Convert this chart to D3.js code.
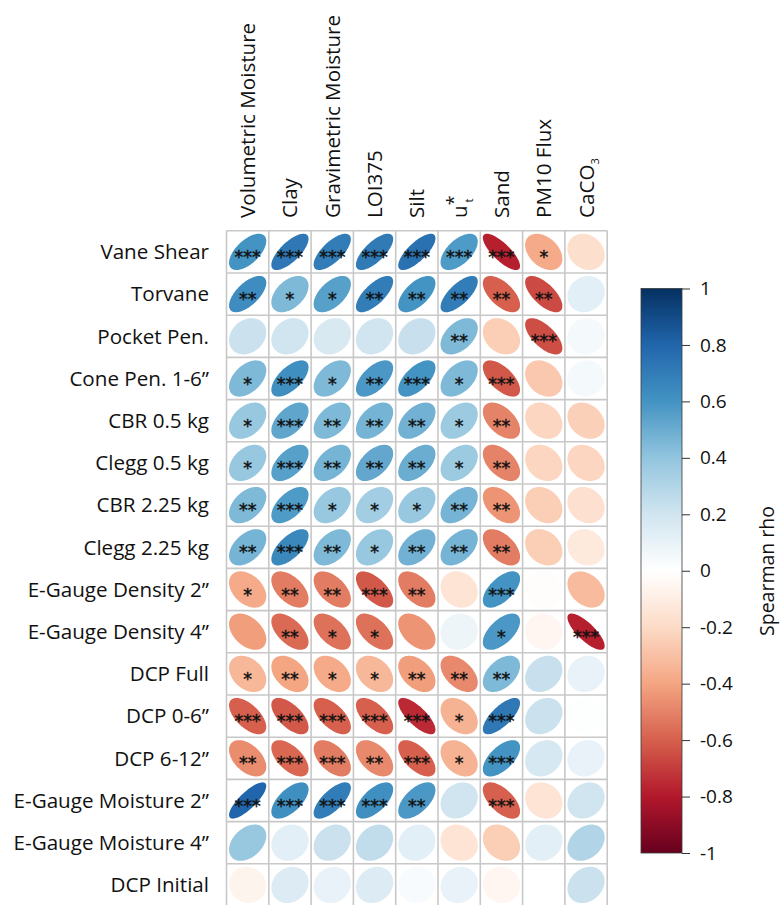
<!DOCTYPE html>
<html>
<head>
<meta charset="utf-8">
<script src="https://cdn.jsdelivr.net/npm/d3@7"></script>
<style>
  html, body { margin: 0; padding: 0; background: #ffffff; }
  svg { display: block; }
  text { font-family: "Open Sans", "Noto Sans", sans-serif; fill: #111111; }
</style>
</head>
<body>
<svg id="chart" width="781" height="905"></svg>
<script>
// Soil / strength variables (rows) versus soil properties (columns)
const rowLabels = [
  "Vane Shear", "Torvane", "Pocket Pen.", "Cone Pen. 1-6\u201D",
  "CBR 0.5 kg", "Clegg 0.5 kg", "CBR 2.25 kg", "Clegg 2.25 kg",
  "E-Gauge Density 2\u201D", "E-Gauge Density 4\u201D", "DCP Full",
  "DCP 0-6\u201D", "DCP 6-12\u201D", "E-Gauge Moisture 2\u201D",
  "E-Gauge Moisture 4\u201D", "DCP Initial"
];
const colKeys = ["VolMoist", "Clay", "GravMoist", "LOI375", "Silt", "ustar", "Sand", "PM10", "CaCO3"];

// Spearman rho, one array per row (columns in colKeys order)
const rhoVaneShear   = [ 0.60,  0.72,  0.70,  0.71,  0.75,  0.57, -0.78, -0.38, -0.18];
const rhoTorvane     = [ 0.63,  0.45,  0.55,  0.70,  0.60,  0.70, -0.60, -0.66,  0.12];
const rhoPocketPen   = [ 0.22,  0.20,  0.17,  0.20,  0.23,  0.45, -0.25, -0.65,  0.05];
const rhoConePen     = [ 0.45,  0.62,  0.45,  0.58,  0.60,  0.45, -0.62, -0.27,  0.05];
const rhoCBR05       = [ 0.38,  0.53,  0.45,  0.47,  0.48,  0.37, -0.50, -0.22, -0.24];
const rhoClegg05     = [ 0.38,  0.55,  0.47,  0.52,  0.50,  0.37, -0.50, -0.22, -0.22];
const rhoCBR225      = [ 0.45,  0.57,  0.38,  0.35,  0.38,  0.47, -0.45, -0.25, -0.17];
const rhoClegg225    = [ 0.47,  0.65,  0.45,  0.38,  0.48,  0.47, -0.52, -0.25, -0.12];
const rhoEGDens2     = [-0.38, -0.52, -0.52, -0.62, -0.52, -0.15,  0.60, -0.01, -0.32];
const rhoEGDens4     = [-0.42, -0.57, -0.55, -0.55, -0.45,  0.08,  0.58, -0.05, -0.78];
const rhoDCPFull     = [-0.33, -0.40, -0.38, -0.33, -0.42, -0.48,  0.45,  0.23,  0.10];
const rhoDCP06       = [-0.60, -0.62, -0.60, -0.60, -0.75, -0.35,  0.72,  0.22,  0.01];
const rhoDCP612      = [-0.47, -0.58, -0.52, -0.48, -0.60, -0.35,  0.60,  0.18,  0.10];
const rhoEGMoist2    = [ 0.80,  0.62,  0.70,  0.62,  0.58,  0.20, -0.60, -0.15,  0.20];
const rhoEGMoist4    = [ 0.38,  0.12,  0.22,  0.25,  0.12, -0.15, -0.25,  0.12,  0.30];
const rhoDCPInitial  = [-0.06,  0.15,  0.10,  0.15,  0.03,  0.10, -0.05,  0.00,  0.22];

// Significance level (number of asterisks) per cell
const sigVaneShear   = [3, 3, 3, 3, 3, 3, 3, 1, 0];
const sigTorvane     = [2, 1, 1, 2, 2, 2, 2, 2, 0];
const sigPocketPen   = [0, 0, 0, 0, 0, 2, 0, 3, 0];
const sigConePen     = [1, 3, 1, 2, 3, 1, 3, 0, 0];
const sigCBR05       = [1, 3, 2, 2, 2, 1, 2, 0, 0];
const sigClegg05     = [1, 3, 2, 2, 2, 1, 2, 0, 0];
const sigCBR225      = [2, 3, 1, 1, 1, 2, 2, 0, 0];
const sigClegg225    = [2, 3, 2, 1, 2, 2, 2, 0, 0];
const sigEGDens2     = [1, 2, 2, 3, 2, 0, 3, 0, 0];
const sigEGDens4     = [0, 2, 1, 1, 0, 0, 1, 0, 3];
const sigDCPFull     = [1, 2, 1, 1, 2, 2, 2, 0, 0];
const sigDCP06       = [3, 3, 3, 3, 3, 1, 3, 0, 0];
const sigDCP612      = [2, 3, 3, 2, 3, 1, 3, 0, 0];
const sigEGMoist2    = [3, 3, 3, 3, 2, 0, 3, 0, 0];
const sigEGMoist4    = [0, 0, 0, 0, 0, 0, 0, 0, 0];
const sigDCPInitial  = [0, 0, 0, 0, 0, 0, 0, 0, 0];

const legendTicks = [1, 0.8, 0.6, 0.4, 0.2, 0, -0.2, -0.4, -0.6, -0.8, -1];
const legendTitle = "Spearman rho";

// Diverging palette (red - white - blue)
const paletteStops = ["#67001F", "#B2182B", "#D6604D", "#F4A582", "#FDDBC7", "#FFFFFF",
                      "#D1E5F0", "#92C5DE", "#4393C3", "#2166AC", "#053061"];

const rhoRows = [rhoVaneShear, rhoTorvane, rhoPocketPen, rhoConePen, rhoCBR05, rhoClegg05,
  rhoCBR225, rhoClegg225, rhoEGDens2, rhoEGDens4, rhoDCPFull, rhoDCP06, rhoDCP612,
  rhoEGMoist2, rhoEGMoist4, rhoDCPInitial];
const sigRows = [sigVaneShear, sigTorvane, sigPocketPen, sigConePen, sigCBR05, sigClegg05,
  sigCBR225, sigClegg225, sigEGDens2, sigEGDens4, sigDCPFull, sigDCP06, sigDCP612,
  sigEGMoist2, sigEGMoist4, sigDCPInitial];

const cells = [];
rowLabels.forEach((rl, i) => {
  colKeys.forEach((ck, j) => {
    cells.push({ row: rl, col: ck, rho: rhoRows[i][j], sig: sigRows[i][j] });
  });
});

const svg = d3.select("#chart");

// Grid geometry
const gridLeft = 226.5, gridTop = 230.8, cellW = 42.3, cellH = 42.2;
const x = d3.scaleBand().domain(colKeys).range([gridLeft, gridLeft + cellW * colKeys.length]).padding(0);
const y = d3.scaleBand().domain(rowLabels).range([gridTop, gridTop + cellH * rowLabels.length]).padding(0);
const color = d3.scaleLinear()
  .domain(d3.range(paletteStops.length).map(k => -1 + 2 * k / (paletteStops.length - 1)))
  .range(paletteStops)
  .interpolate(d3.interpolateRgb);

// Ellipse outline for a correlation rho, unit box [-0.5, 0.5]
function ellipsePoints(rho, n = 100) {
  const a = Math.acos(Math.max(-1, Math.min(1, rho))) / 2;
  return d3.range(n).map(i => {
    const k = 2 * Math.PI * i / n;
    return [Math.cos(k + a) / 2, Math.cos(k - a) / 2];
  });
}
const ellX = d3.scaleLinear().domain([-0.5, 0.5]).range([-cellW * 0.44, cellW * 0.44]);
const ellY = d3.scaleLinear().domain([-0.5, 0.5]).range([cellH * 0.43, -cellH * 0.43]);
const ellLine = d3.line().x(p => ellX(p[0])).y(p => ellY(p[1])).curve(d3.curveLinearClosed);

const g = svg.append("g");

// cell backgrounds
g.selectAll("rect.cell").data(cells).join("rect")
  .attr("class", "cell")
  .attr("x", d => x(d.col)).attr("y", d => y(d.row))
  .attr("width", x.bandwidth()).attr("height", y.bandwidth())
  .attr("fill", "#ffffff");

// ellipses
g.selectAll("path.ell").data(cells).join("path")
  .attr("class", "ell")
  .attr("transform", d => `translate(${x(d.col) + x.bandwidth() / 2},${y(d.row) + y.bandwidth() / 2})`)
  .attr("d", d => ellLine(ellipsePoints(d.rho)))
  .attr("fill", d => color(d.rho))
  .attr("stroke", "none");

// grid lines
const gridCol = "#c8c8c8";
g.selectAll("line.v").data(d3.range(colKeys.length + 1)).join("line")
  .attr("x1", k => gridLeft + k * x.step()).attr("x2", k => gridLeft + k * x.step())
  .attr("y1", gridTop).attr("y2", gridTop + y.step() * rowLabels.length)
  .attr("stroke", gridCol).attr("stroke-width", 1.6);
g.selectAll("line.h").data(d3.range(rowLabels.length + 1)).join("line")
  .attr("y1", k => gridTop + k * y.step()).attr("y2", k => gridTop + k * y.step())
  .attr("x1", gridLeft).attr("x2", gridLeft + x.step() * colKeys.length)
  .attr("stroke", gridCol).attr("stroke-width", 1.6);

// significance asterisks
g.selectAll("text.sig").data(cells.filter(d => d.sig > 0)).join("text")
  .attr("class", "sig")
  .attr("x", d => x(d.col) + x.bandwidth() / 2)
  .attr("y", d => y(d.row) + y.bandwidth() / 2 + 11)
  .attr("text-anchor", "middle")
  .style("font-family", "'DejaVu Sans', sans-serif")
  .style("font-size", "17.5px")
  .style("fill", "#111")
  .style("stroke", "#111").style("stroke-width", 0.4)
  .text(d => "*".repeat(d.sig));

// row labels
svg.append("g").selectAll("text").data(rowLabels).join("text")
  .attr("x", 209)
  .attr("y", d => y(d) + y.bandwidth() / 2)
  .attr("dy", "0.35em")
  .attr("text-anchor", "end")
  .style("font-size", "20.6px")
  .text(d => d);

// column labels (rotated)
const colText = {
  VolMoist: [["Volumetric Moisture"]],
  Clay: [["Clay"]],
  GravMoist: [["Gravimetric Moisture"]],
  LOI375: [["LOI375"]],
  Silt: [["Silt"]],
  ustar: [["u"], ["*", "sup"], ["t", "sub"]],
  Sand: [["Sand"]],
  PM10: [["PM10 Flux"]],
  CaCO3: [["CaCO"], ["3", "sub3"]]
};
const colG = svg.append("g");
colKeys.forEach(k => {
  const cx = x(k) + x.bandwidth() / 2;
  const t = colG.append("text")
    .attr("transform", `translate(${cx + 7.5},218) rotate(-90)`)
    .attr("x", 0).attr("y", 0)
    .style("font-size", "20.6px");
  colText[k].forEach(([s, kind]) => {
    const ts = t.append("tspan").text(s);
    if (kind === "sup") ts.attr("dy", -7).style("font-size", "18px");
    if (kind === "sub") ts.attr("dx", -7).attr("dy", 13).style("font-size", "11px");
    if (kind === "sub3") ts.attr("dy", 5).style("font-size", "11px");
  });
});

// colour legend
const lgX = 641, lgW = 41, lgTop = 288.5, lgBottom = 853;
const lgScale = d3.scaleLinear().domain([-1, 1]).range([lgBottom, lgTop]);
const defs = svg.append("defs");
const grad = defs.append("linearGradient").attr("id", "lg")
  .attr("x1", 0).attr("y1", 1).attr("x2", 0).attr("y2", 0);
d3.range(0, 1.0001, 0.02).forEach(t => {
  grad.append("stop").attr("offset", t).attr("stop-color", color(-1 + 2 * t));
});
const lg = svg.append("g");
lg.append("rect")
  .attr("x", lgX).attr("y", lgTop)
  .attr("width", lgW).attr("height", lgBottom - lgTop)
  .attr("fill", "url(#lg)")
  .attr("stroke", "#3a3a3a").attr("stroke-width", 0.8);
const lgAxis = d3.axisRight(lgScale).tickValues(legendTicks).tickSize(8).tickPadding(10)
  .tickFormat(d => d === 0 ? "0" : String(d));
const ax = lg.append("g").attr("transform", `translate(${lgX + lgW},0)`).call(lgAxis);
ax.select(".domain").remove();
ax.selectAll("line").attr("stroke", "#333");
ax.selectAll("text").style("font-family", "'Open Sans', sans-serif").style("font-size", "19px").attr("fill", "#111");

lg.append("text")
  .attr("transform", `translate(774,571) rotate(-90)`)
  .attr("text-anchor", "middle")
  .style("font-size", "19.5px")
  .text(legendTitle);
</script>
</body>
</html>
